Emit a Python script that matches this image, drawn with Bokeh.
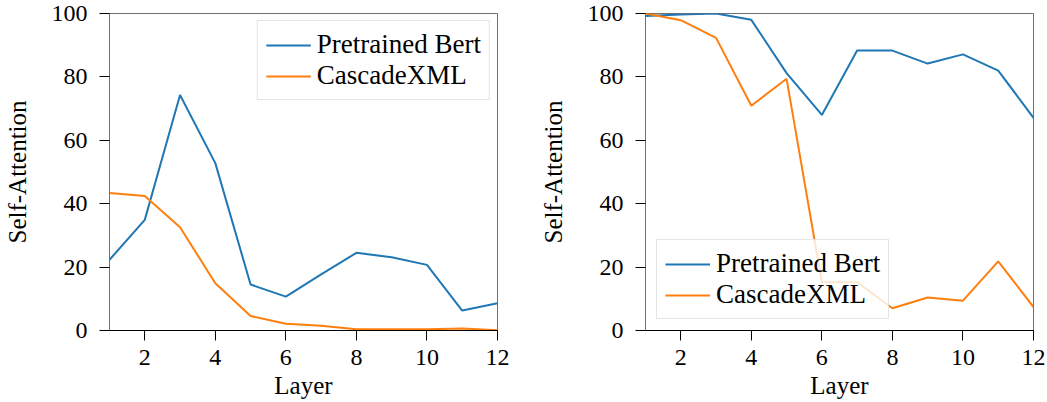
from bokeh.plotting import figure
from bokeh.layouts import row
from bokeh.models import Range1d, FixedTicker, Legend, LegendItem
from bokeh.embed import file_html
from bokeh.resources import INLINE

layers = [1, 2, 3, 4, 5, 6, 7, 8, 9, 10, 11, 12]
left_bert = [22.3, 34.9, 74.3, 52.8, 14.5, 10.7, 17.7, 24.5, 23.1, 20.7, 6.3, 8.6]
left_cascade = [43.4, 42.4, 32.6, 14.9, 4.6, 2.1, 1.5, 0.4, 0.4, 0.4, 0.6, 0.1]
right_bert = [99.2, 99.7, 100.0, 98.0, 81.2, 68.0, 88.3, 88.3, 84.2, 87.1, 82.0, 67.1]
right_cascade = [100.0, 97.9, 92.3, 70.9, 79.4, 15.2, 15.2, 7.0, 10.4, 9.4, 21.8, 7.4]
x_ticks = [2, 4, 6, 8, 10, 12]
y_ticks = [0, 20, 40, 60, 80, 100]
series_names = ["Pretrained Bert", "CascadeXML"]
colors = ["#1f77b4", "#ff7f0e"]

FONT = "Liberation Serif"


def make_fig(bert, cascade, legend_loc, border_left, border_right, legend_margin):
    p = figure(frame_width=388, frame_height=317, output_backend="svg",
               toolbar_location=None, x_range=Range1d(1, 12), y_range=Range1d(0, 100),
               min_border_left=border_left, min_border_top=13, min_border_right=border_right,
               min_border_bottom=40)
    p.background_fill_color = "white"
    p.border_fill_color = "white"
    p.outline_line_color = "#707070"
    p.outline_line_width = 1
    p.grid.visible = False
    r1 = p.line(layers, bert, line_color=colors[0], line_width=2)
    r2 = p.line(layers, cascade, line_color=colors[1], line_width=2)
    p.xaxis.ticker = FixedTicker(ticks=x_ticks)
    p.yaxis.ticker = FixedTicker(ticks=y_ticks)
    p.xaxis.axis_label = "Layer"
    p.yaxis.axis_label = "Self-Attention"
    for ax in (p.xaxis, p.yaxis):
        ax.axis_label_text_font = FONT
        ax.axis_label_text_font_size = "25px"
        ax.axis_label_text_font_style = "normal"
        ax.axis_label_text_color = "black"
        ax.major_label_text_font = FONT
        ax.major_label_text_font_size = "24px"
        ax.major_label_text_color = "black"
        ax.minor_tick_line_color = None
        ax.major_tick_out = 10
        ax.major_tick_in = 0
        ax.major_tick_line_color = "black"
        ax.major_tick_line_width = 1
    p.xaxis.axis_line_color = "black"
    p.yaxis.axis_line_color = "#707070"
    p.xaxis.major_label_standoff = 9
    p.xaxis.axis_label_standoff = 4
    p.yaxis.major_label_standoff = 12
    p.yaxis.axis_label_standoff = 18
    legend = Legend(items=[LegendItem(label=series_names[0], renderers=[r1]),
                           LegendItem(label=series_names[1], renderers=[r2])],
                    location=legend_loc)
    legend.label_text_font = FONT
    legend.label_text_font_size = "27px"
    legend.label_text_color = "black"
    legend.border_line_color = "#cccccc"
    legend.border_line_width = 1
    legend.background_fill_alpha = 0.8
    legend.glyph_width = 45
    legend.glyph_height = 20
    legend.label_height = 27
    legend.label_standoff = 6
    legend.padding = 8
    legend.spacing = 0
    legend.margin = legend_margin
    p.add_layout(legend, "center")
    return p


p1 = make_fig(left_bert, left_cascade, "top_right", 108, 39, 7)
p2 = make_fig(right_bert, right_cascade, "bottom_left", 100, 14, 11)
layout = row(p1, p2)

open("out.html", "w").write(file_html(layout, INLINE))
